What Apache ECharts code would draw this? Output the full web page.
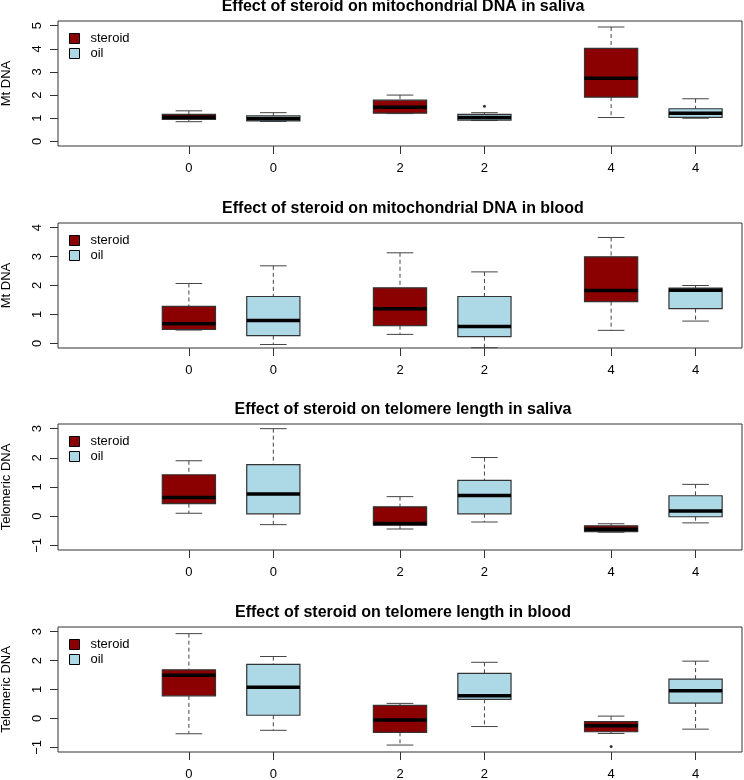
<!DOCTYPE html>
<html><head><meta charset="utf-8">
<script src="https://cdn.jsdelivr.net/npm/echarts@6/dist/echarts.min.js"></script>
<style>html,body{margin:0;padding:0;background:#fff}#c{width:744px;height:780px}</style>
</head><body><div id="c"></div>
<script>
// ---- data ----
const positions = [1, 2, 3.5, 4.5, 6, 7];
const doseLabels = ['0', '0', '2', '2', '4', '4'];
const groupNames = ['steroid', 'oil'];
const titles = [
  'Effect of steroid on mitochondrial DNA in saliva',
  'Effect of steroid on mitochondrial DNA in blood',
  'Effect of steroid on telomere length in saliva',
  'Effect of steroid on telomere length in blood'
];
const yNames = ['Mt DNA', 'Mt DNA', 'Telomeric DNA', 'Telomeric DNA'];
const yTicksMtSaliva = [0, 1, 2, 3, 4, 5];
const yTicksMtBlood = [0, 1, 2, 3, 4];
const yTicksTelo = [-1, 0, 1, 2, 3];
const yRangeMtSaliva = [-0.2, 5.2];
const yRangeMtBlood = [-0.16, 4.16];
const yRangeTelo = [-1.16, 3.16];

// box stats per dose 0, 2, 4: [min, q1, median, q3, max]
const mtSalivaSteroid = [[0.85, 0.95, 1.04, 1.17, 1.32], [1.2, 1.22, 1.47, 1.78, 2.0], [1.03, 1.91, 2.73, 4.02, 4.94]];
const mtSalivaOil     = [[0.86, 0.88, 0.98, 1.1, 1.24], [0.9, 0.92, 1.03, 1.17, 1.24], [1.0, 1.04, 1.22, 1.41, 1.84]];
const mtBloodSteroid  = [[0.46, 0.48, 0.68, 1.28, 2.07], [0.31, 0.61, 1.2, 1.92, 3.13], [0.45, 1.44, 1.83, 2.99, 3.66]];
const mtBloodOil      = [[-0.04, 0.27, 0.79, 1.62, 2.68], [-0.15, 0.23, 0.58, 1.62, 2.47], [0.77, 1.2, 1.84, 1.91, 2.0]];
const teloSalivaSteroid = [[0.1, 0.43, 0.64, 1.42, 1.9], [-0.44, -0.31, -0.25, 0.32, 0.67], [-0.55, -0.53, -0.45, -0.33, -0.26]];
const teloSalivaOil     = [[-0.29, 0.08, 0.76, 1.77, 3.0], [-0.2, 0.08, 0.71, 1.23, 2.01], [-0.23, -0.02, 0.18, 0.7, 1.09]];
const teloBloodSteroid  = [[-0.53, 0.78, 1.49, 1.68, 2.93], [-0.92, -0.48, -0.05, 0.45, 0.52], [-0.52, -0.46, -0.25, -0.11, 0.08]];
const teloBloodOil      = [[-0.41, 0.11, 1.08, 1.87, 2.14], [-0.28, 0.66, 0.78, 1.56, 1.94], [-0.37, 0.53, 0.96, 1.36, 1.98]];
// outliers: [position index, value]
const mtSalivaOutliers = [[3, 1.52]];
const mtBloodOutliers = [];
const teloSalivaOutliers = [];
const teloBloodOutliers = [[4, -0.97]];

const colSteroid = '#8B0000';
const colOil = '#ADD8E6';

const panels = [
  { steroid: mtSalivaSteroid, oil: mtSalivaOil, out: mtSalivaOutliers, ticks: yTicksMtSaliva, range: yRangeMtSaliva },
  { steroid: mtBloodSteroid, oil: mtBloodOil, out: mtBloodOutliers, ticks: yTicksMtBlood, range: yRangeMtBlood },
  { steroid: teloSalivaSteroid, oil: teloSalivaOil, out: teloSalivaOutliers, ticks: yTicksTelo, range: yRangeTelo },
  { steroid: teloBloodSteroid, oil: teloBloodOil, out: teloBloodOutliers, ticks: yTicksTelo, range: yRangeTelo }
];

// ---- layout ----
const L = 58, W = 684;
const tops = [21, 223, 424, 627];
const heights = [125, 125, 126, 125];
const FONT = '"Liberation Sans", Arial, Helvetica, sans-serif';

function boxRenderer(fill) {
  return function (params, api) {
    const x = api.value(0);
    const mn = api.value(1), q1 = api.value(2), md = api.value(3), q3 = api.value(4), mx = api.value(5);
    const hw = 0.315, cw = 0.1575;
    const pMax = api.coord([x, mx]), pQ3 = api.coord([x, q3]), pMd = api.coord([x, md]);
    const pQ1 = api.coord([x, q1]), pMin = api.coord([x, mn]);
    const xl = api.coord([x - hw, md])[0], xr = api.coord([x + hw, md])[0];
    const cl = api.coord([x - cw, md])[0], cr = api.coord([x + cw, md])[0];
    const wStyle = { stroke: '#444', lineWidth: 1, lineDash: [4, 3] };
    const cStyle = { stroke: '#444', lineWidth: 1 };
    return {
      type: 'group',
      children: [
        { type: 'line', shape: { x1: pMax[0], y1: pMax[1], x2: pQ3[0], y2: pQ3[1] }, style: wStyle },
        { type: 'line', shape: { x1: pQ1[0], y1: pQ1[1], x2: pMin[0], y2: pMin[1] }, style: wStyle },
        { type: 'line', shape: { x1: cl, y1: pMax[1], x2: cr, y2: pMax[1] }, style: cStyle },
        { type: 'line', shape: { x1: cl, y1: pMin[1], x2: cr, y2: pMin[1] }, style: cStyle },
        { type: 'rect', shape: { x: xl, y: pQ3[1], width: xr - xl, height: pQ1[1] - pQ3[1] },
          style: { fill: fill, stroke: '#333', lineWidth: 1.2 } },
        { type: 'line', shape: { x1: xl, y1: pMd[1], x2: xr, y2: pMd[1] }, style: { stroke: '#000', lineWidth: 3.5 } }
      ]
    };
  };
}

const grid = [], xAxis = [], yAxis = [], series = [], title = [], legend = [];
panels.forEach((p, i) => {
  grid.push({ left: L, top: tops[i], width: W, height: heights[i], show: true, borderColor: '#333', borderWidth: 1,
    backgroundColor: 'transparent', containLabel: false, outerBoundsMode: 'none' });
  xAxis.push({
    type: 'value', gridIndex: i, min: -0.55, max: 7.55, position: 'bottom',
    axisLine: { show: false, onZero: false }, splitLine: { show: false },
    axisTick: { show: true, length: 8, customValues: positions, lineStyle: { color: '#333' } },
    axisLabel: { customValues: positions, margin: 16, fontSize: 13, color: '#000', fontFamily: FONT,
      formatter: v => { const k = positions.indexOf(v); return k >= 0 ? doseLabels[k] : ''; } }
  });
  yAxis.push({
    type: 'value', gridIndex: i, min: p.range[0], max: p.range[1], position: 'left',
    name: yNames[i], nameLocation: 'middle', nameGap: 45, nameRotate: 90,
    nameTextStyle: { fontSize: 13, color: '#000', fontFamily: FONT },
    axisLine: { show: false, onZero: false }, splitLine: { show: false },
    axisTick: { show: true, length: 8, customValues: p.ticks, lineStyle: { color: '#333' } },
    axisLabel: { customValues: p.ticks, rotate: 90, margin: 14, fontSize: 13, color: '#000', fontFamily: FONT,
      formatter: v => (v < 0 ? '\u2212' + Math.abs(v) : String(v)) }
  });
  title.push({
    text: titles[i], left: L + W / 2 - 2, top: tops[i] - 27, textAlign: 'center',
    textStyle: { fontSize: 16, fontWeight: 'bold', color: '#000', fontFamily: FONT }
  });
  legend.push({
    left: 69, top: tops[i] + 11, padding: 0, orient: 'vertical', itemWidth: 10, itemHeight: 10, itemGap: 2,
    selectedMode: false, icon: 'rect',
    textStyle: { fontSize: 13, color: '#000', fontFamily: FONT, padding: [0, 0, 0, 6] },
    data: [
      { name: 'steroid', itemStyle: { color: colSteroid, borderColor: '#000', borderWidth: 1 } },
      { name: 'oil', itemStyle: { color: colOil, borderColor: '#000', borderWidth: 1 } }
    ]
  });
  series.push({
    type: 'custom', name: 'steroid', xAxisIndex: i, yAxisIndex: i,
    itemStyle: { color: colSteroid },
    renderItem: boxRenderer(colSteroid),
    encode: { x: 0, y: [1, 2, 3, 4, 5] },
    data: p.steroid.map((s, k) => [positions[2 * k]].concat(s))
  });
  series.push({
    type: 'custom', name: 'oil', xAxisIndex: i, yAxisIndex: i,
    itemStyle: { color: colOil },
    renderItem: boxRenderer(colOil),
    encode: { x: 0, y: [1, 2, 3, 4, 5] },
    data: p.oil.map((s, k) => [positions[2 * k + 1]].concat(s))
  });
  series.push({
    type: 'scatter', name: 'outliers', xAxisIndex: i, yAxisIndex: i,
    symbol: 'circle', symbolSize: 3, itemStyle: { color: '#000' },
    data: p.out.map(o => [positions[o[0]], o[1]])
  });
});

const chart = echarts.init(document.getElementById('c'), null, { renderer: 'canvas' });
chart.setOption({ animation: false, backgroundColor: '#fff', title, legend, grid, xAxis, yAxis, series });
</script></body></html>
